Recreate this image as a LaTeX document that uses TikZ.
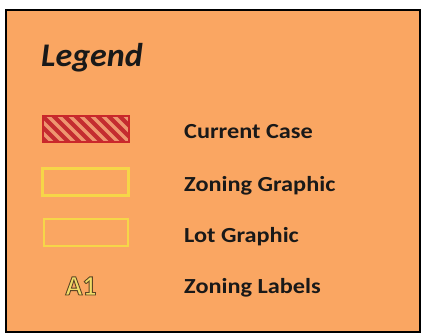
\documentclass[tikz,border=0pt]{standalone}
\usepackage{fontspec}
\setmainfont{Carlito}
\newfontfamily\itemfont[FakeStretch=1.13]{Carlito}
\newfontfamily\headfont[FakeStretch=1.03]{Carlito}
\usetikzlibrary{positioning}
\definecolor{panelorange}{RGB}{250,166,98}
\definecolor{caseRed}{RGB}{196,44,48}
\definecolor{caseStripe}{RGB}{238,150,112}
\definecolor{zoneYellow}{RGB}{246,214,72}
\definecolor{labelFill}{RGB}{240,220,104}
\newcommand{\outlinedlabel}[1]{%
  {\color{labelFill}\special{pdf:literal direct 2 Tr 0.9 w 0.36 0.27 0.14 RG}#1%
   \special{pdf:literal direct 0 Tr 0.4 w 0 0 0 RG}}}
\tikzset{
  itemtext/.style={anchor=base west, text=black!90, inner sep=0pt,
    font=\itemfont\fontsize{21.5}{24}\selectfont\bfseries},
  zonebox/.style={draw=zoneYellow, line width=3pt},
  lotbox/.style={draw=zoneYellow, line width=2.2pt}
}

\begin{document}
\begin{tikzpicture}[x=1pt,y=-1pt]
                \useasboundingbox (0,0) rectangle (422,333);
                \fill[white] (0,0) rectangle (422,333);
                \draw[line width=2.5pt, fill=panelorange] (6,10) rectangle (420,332);
                \node[anchor=base west, inner sep=0pt, text=black!90,
                  font=\headfont\fontsize{33}{36}\selectfont\bfseries\itshape] (legend) at (41,66) {Legend};
                % swatches
                \begin{scope}
                  \clip (43,116) rectangle (129,142);
                  \fill[caseRed] (43,116) rectangle (129,142);
                  \foreach \s in {20,31,...,140}
                    \draw[caseStripe, line width=3.2pt] (\s,110) -- ++(36,36);
                \end{scope}
                \draw[caseRed!90!red, line width=1.5pt] (43,116) rectangle (129,142);
                \node[draw=none, minimum width=86pt, minimum height=26pt, inner sep=0pt]
                  (currentswatch) at (86,129) {};
                \node[zonebox, minimum width=86pt, minimum height=27pt, inner sep=0pt]
                  (zoningswatch) at (85.5,182) {};
                \node[lotbox, minimum width=84pt, minimum height=27pt, inner sep=0pt]
                  (lotswatch) at (86,232.5) {};
                % item texts
                \node[itemtext] (currenttext) at (184,138) {Current Case};
                \node[itemtext] (zoningtext) at (184,191) {Zoning Graphic};
                \node[itemtext] (lottext) at (184,242) {Lot Graphic};
                \node[itemtext] (labeltext) at (184,293) {Zoning Labels};
                \node[font=\fontsize{28}{30}\selectfont\bfseries, inner sep=0pt, anchor=base]
                  (zonelabel) at (81,295) {\outlinedlabel{A1}};
            \end{tikzpicture}
\end{document}
